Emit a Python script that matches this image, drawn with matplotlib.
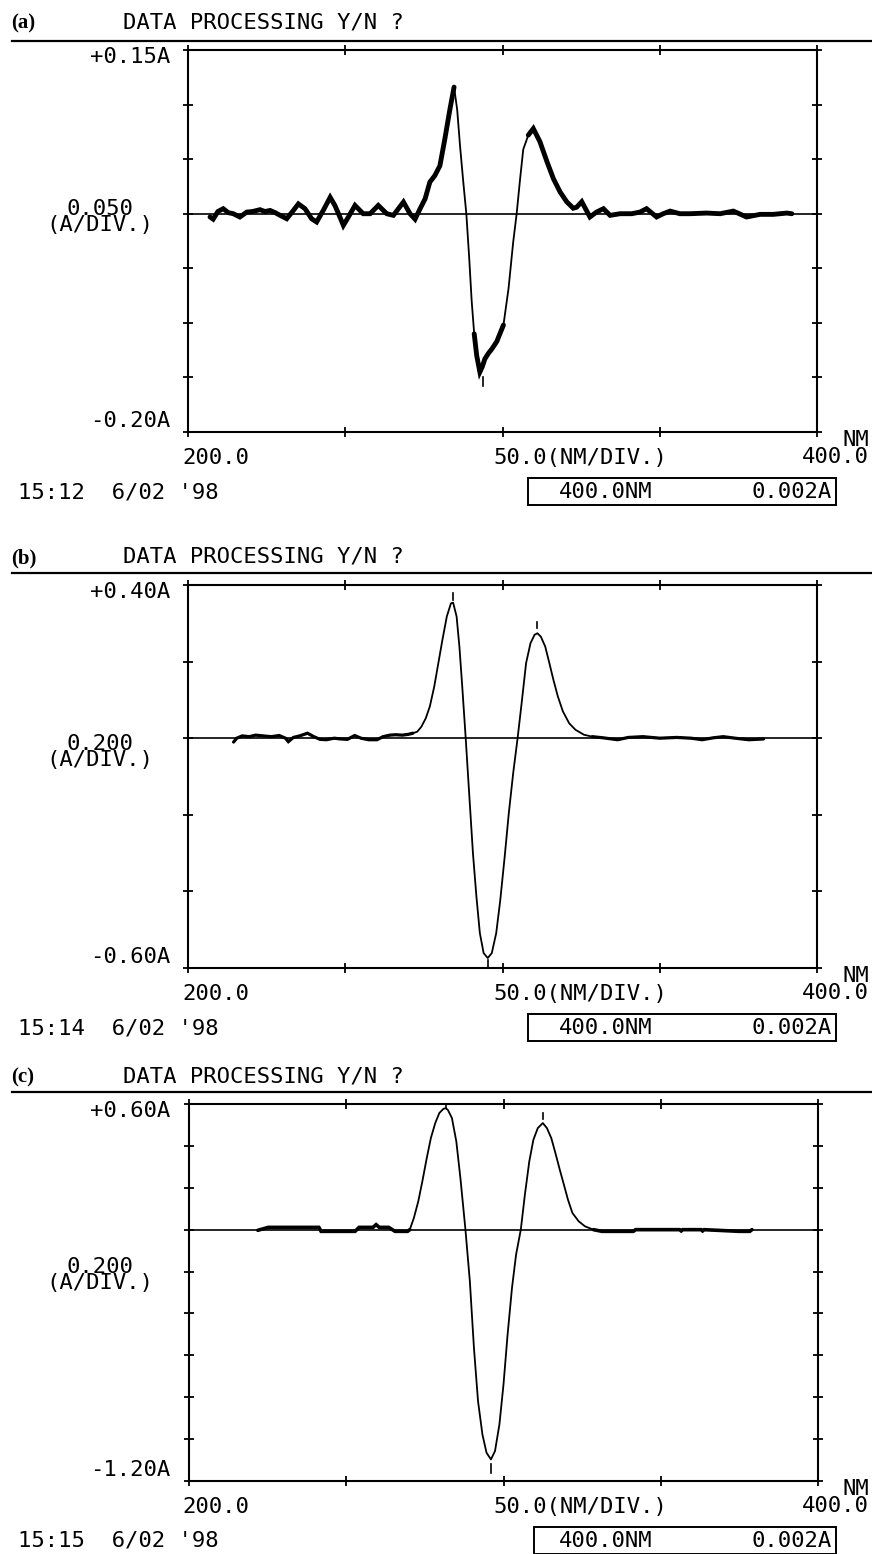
import matplotlib.pyplot as plt
import matplotlib.patches as patches
import numpy as np

W, H = 872, 1554

# ---- traces: wavelength (nm) vs absorbance (A) ----
wl_a = [207.0, 208.0, 209.5, 211.2, 212.8, 214.4, 216.5, 218.7, 220.5, 222.9,
        224.5, 226.1, 227.7, 229.3, 231.4, 233.5, 235.1, 237.2, 239.3, 240.9,
        243.0, 245.2, 246.7, 248.3, 249.4, 251.0, 253.1, 255.7, 257.9, 260.5,
        263.2, 265.3, 268.5, 270.6, 272.2, 273.8, 275.4, 276.9, 278.5, 280.1,
        281.7, 283.3, 284.6, 285.6, 286.5, 287.5, 288.5, 289.4, 290.2, 291.0,
        291.8, 292.8, 293.6, 294.4, 295.5, 296.6, 298.2, 300.3, 301.9, 303.4,
        304.5, 305.6, 306.6, 308.2, 309.8, 311.9, 314.1, 316.2, 318.3, 320.4,
        322.5, 323.6, 325.2, 327.8, 329.9, 332.1, 334.2, 337.4, 341.1, 343.7,
        345.8, 349.0, 351.1, 353.3, 356.4, 359.6, 364.9, 369.2, 373.4, 377.6,
        381.9, 386.1, 390.4, 392.0]
abs_a = [-0.003, -0.005, 0.002, 0.0046, 0.001, 0.0, -0.003, 0.0015, 0.002, 0.0037,
         0.002, 0.003, 0.001, -0.0015, -0.0046, 0.003, 0.009, 0.0046, -0.0046, -0.0076,
         0.003, 0.015, 0.0076, -0.003, -0.0107, -0.003, 0.0076, 0.0, 0.0, 0.0076,
         0.0, -0.0015, 0.0107, 0.0, -0.005, 0.0046, 0.0137, 0.029, 0.035, 0.044,
         0.069, 0.096, 0.116, 0.095, 0.062, 0.030, 0.0, -0.040, -0.080, -0.110,
         -0.130, -0.145, -0.140, -0.133, -0.128, -0.124, -0.117, -0.102, -0.069, -0.026,
         0.0, 0.032, 0.059, 0.072, 0.078, 0.066, 0.048, 0.032, 0.020, 0.011,
         0.005, 0.006, 0.011, -0.003, 0.0015, 0.0046, -0.0015, 0.0, 0.0, 0.0015,
         0.0046, -0.003, 0.0, 0.0024, 0.0, 0.0, 0.0006, 0.0, 0.0024, -0.003,
         -0.0006, -0.0006, 0.0006, 0.0]

wl_b = [214.5, 215.5, 217.2, 219.5, 221.5, 223.9, 226.5, 229.0, 231.0, 231.9,
        233.5, 235.5, 238.0, 240.0, 242.0, 244.0, 246.5, 248.5, 250.7, 253.0,
        255.0, 257.4, 260.1, 262.0, 264.2, 266.0, 268.2, 270.0, 271.5, 272.9,
        274.2, 275.6, 276.9, 278.3, 279.6, 280.9, 282.3, 283.6, 284.3, 285.4,
        286.3, 287.2, 288.3, 289.4, 290.6, 291.7, 292.8, 294.0, 295.3, 296.6,
        298.0, 299.3, 300.7, 302.0, 303.4, 304.8, 306.2, 307.5, 308.9, 310.2,
        311.1, 312.2, 313.6, 314.9, 316.2, 317.6, 319.2, 321.2, 323.2, 325.9,
        328.6, 332.0, 336.6, 340.0, 344.7, 350.0, 355.4, 360.0, 363.5, 367.0,
        370.2, 374.0, 378.3, 383.0]
abs_b = [-0.010, 0.0, 0.006, 0.004, 0.008, 0.006, 0.004, 0.007, 0.0, -0.009,
         0.002, 0.006, 0.013, 0.004, -0.003, -0.004, 0.0, -0.002, -0.003, 0.007,
         0.0, -0.004, -0.004, 0.004, 0.008, 0.009, 0.008, 0.010, 0.013, 0.017,
         0.030, 0.052, 0.083, 0.135, 0.196, 0.257, 0.318, 0.352, 0.354, 0.318,
         0.239, 0.135, 0.0, -0.144, -0.300, -0.413, -0.509, -0.561, -0.574, -0.561,
         -0.509, -0.422, -0.309, -0.196, -0.091, 0.0, 0.100, 0.196, 0.248, 0.270,
         0.274, 0.265, 0.239, 0.196, 0.152, 0.109, 0.070, 0.039, 0.022, 0.009,
         0.004, 0.001, -0.004, 0.002, 0.004, 0.0, 0.002, 0.0, -0.004, 0.001,
         0.004, 0.0, -0.004, -0.002]

wl_c = [221.9, 225.2, 241.3, 242.0, 252.8, 254.1, 258.5, 259.5, 260.5, 263.5,
        265.5, 269.5, 270.2, 271.5, 272.9, 274.2, 275.6, 276.9, 278.3, 279.6,
        280.9, 281.6, 282.3, 283.6, 285.0, 286.3, 287.9, 289.3, 290.6, 291.9,
        293.3, 294.6, 296.0, 297.3, 298.7, 300.0, 301.3, 302.7, 304.0, 305.5,
        306.8, 308.2, 309.5, 310.9, 312.5, 313.8, 315.2, 316.5, 317.9, 319.2,
        320.5, 321.9, 323.9, 325.9, 328.6, 331.3, 341.3, 342.0, 356.0, 356.5,
        357.0, 362.8, 363.3, 363.8, 374.9, 378.3, 379.0]
abs_c = [-0.003, 0.011, 0.011, -0.008, -0.008, 0.011, 0.011, 0.024, 0.011, 0.011,
         -0.008, -0.008, 0.0, 0.056, 0.135, 0.231, 0.342, 0.437, 0.509, 0.557,
         0.577, 0.580, 0.572, 0.533, 0.421, 0.246, 0.0, -0.246, -0.564, -0.819,
         -0.978, -1.065, -1.097, -1.057, -0.930, -0.739, -0.501, -0.278, -0.119, 0.0,
         0.167, 0.326, 0.429, 0.485, 0.509, 0.485, 0.437, 0.366, 0.286, 0.215,
         0.143, 0.080, 0.040, 0.016, 0.0, -0.008, -0.008, 0.0, 0.0, -0.006,
         0.0, 0.0, -0.006, 0.0, -0.008, -0.008, 0.0]

# peak-pick dashes: (wavelength, from, to)
marks_a = [(293.7, -0.150, -0.158)]
marks_b = [(284.3, 0.362, 0.380), (311.1, 0.287, 0.304), (295.3, -0.580, -0.600)]
marks_c = [(281.6, 0.582, 0.594), (312.5, 0.530, 0.558), (296.0, -1.118, -1.160)]

# scale settings / labels of the three recordings
y_top = [0.15, 0.40, 0.60]
y_bottom = [-0.20, -0.60, -1.20]
y_div = [0.05, 0.2, 0.2]
top_labels = ["+0.15A", "+0.40A", "+0.60A"]
bottom_labels = ["-0.20A", "-0.60A", "-1.20A"]
div_labels = ["0.050", "0.200", "0.200"]
stamps = ["15:12  6/02 '98", "15:14  6/02 '98", "15:15  6/02 '98"]
tags = ["(a)", "(b)", "(c)"]
x_start, x_end, x_div = 200.0, 400.0, 50.0

traces = [(wl_a, abs_a, marks_a), (wl_b, abs_b, marks_b), (wl_c, abs_c, marks_c)]

# layout in pixels (left, top, right, bottom of the plot frame)
frames = [(188, 50, 817, 432), (188, 585, 817, 968), (189, 1104, 818, 1481)]
rule_y = [41, 573, 1092]
div_label_y = [217, 752, 1275]
box_left = [528, 528, 534]
# stretches where the recorder trace is a noisy (thick) band
noisy = [[(207, 285.0), (291.0, 300.5), (307.5, 393)],
         [(214, 272.5), (326.0, 384)],
         [(221, 270.2), (328.0, 380)]]
noisy_lw = [3.5, 2.3, 2.6]

mono = "DejaVu Sans Mono"
fs = 16

fig = plt.figure(figsize=(W / 100, H / 100), dpi=100)


def fx(x):
    return x / W


def fy(y):
    return 1 - y / H


for i in range(3):
    left, top, right, bottom = frames[i]
    ax = fig.add_axes([fx(left), fy(bottom), (right - left) / W, (bottom - top) / H])
    wl, a, marks = traces[i]

    ax.axhline(0, color="black", lw=1.2)
    ax.plot(wl, a, color="black", lw=1.3)
    wl_arr, a_arr = np.array(wl), np.array(a)
    for lo, hi in noisy[i]:
        m = (wl_arr >= lo) & (wl_arr <= hi)
        ax.plot(wl_arr[m], a_arr[m], color="black", lw=noisy_lw[i],
                solid_joinstyle="miter", solid_capstyle="round")
    for x, y0, y1 in marks:
        ax.plot([x, x], [y0, y1], color="black", lw=1.2)

    ax.set_xlim(x_start, x_end)
    ax.set_ylim(y_bottom[i], y_top[i])
    ax.set_xticks(np.arange(x_start, x_end + 1, x_div))
    ax.set_yticks(np.arange(y_bottom[i], y_top[i] + 1e-6, y_div[i]))
    ax.tick_params(direction="inout", length=7, width=1.3, top=True, right=True,
                   labelleft=False, labelbottom=False)
    for s in ax.spines.values():
        s.set_linewidth(1.5)

    # header
    fig.text(fx(11), fy(top - 27), tags[i], family="Liberation Serif",
             weight="bold", fontsize=15, va="center")
    fig.text(fx(123), fy(top - 28), "DATA PROCESSING Y/N ?", family=mono,
             fontsize=fs, va="center")
    fig.add_artist(plt.Line2D([fx(12), 1.0], [fy(rule_y[i])] * 2, color="black",
                              lw=1.6))

    # y scale texts
    fig.text(fx(170), fy(top + 7), top_labels[i], family=mono, fontsize=fs,
             ha="right", va="center")
    fig.text(fx(170), fy(bottom - 11), bottom_labels[i], family=mono, fontsize=fs,
             ha="right", va="center")
    fig.text(fx(100), fy(div_label_y[i]), div_labels[i] + "\n(A/DIV.)", family=mono,
             fontsize=fs, ha="center", va="center", multialignment="center",
             linespacing=0.8)

    # x scale texts
    fig.text(fx(216), fy(bottom + 26), "200.0", family=mono, fontsize=fs,
             ha="center", va="center")
    fig.text(fx(580), fy(bottom + 26), "50.0(NM/DIV.)", family=mono, fontsize=fs,
             ha="center", va="center")
    fig.text(fx(869), fy(bottom + 25), "400.0", family=mono, fontsize=fs,
             ha="right", va="center")
    fig.text(fx(869), fy(bottom + 8), "NM", family=mono, fontsize=fs,
             ha="right", va="center")

    # time stamp and cursor box
    fig.text(fx(18), fy(bottom + 60), stamps[i], family=mono, fontsize=fs,
             va="center")
    bx0, bx1 = box_left[i], 836
    by0, by1 = bottom + 46, bottom + 73
    fig.add_artist(patches.Rectangle((fx(bx0), fy(by1)), (bx1 - bx0) / W,
                                     (by1 - by0) / H, fill=False, lw=1.4,
                                     edgecolor="black"))
    fig.text(fx(606), fy(bottom + 60), "400.0NM", family=mono, fontsize=fs,
             ha="center", va="center")
    fig.text(fx(832), fy(bottom + 60), "0.002A", family=mono, fontsize=fs,
             ha="right", va="center")

fig.savefig("out.png", dpi=100)
